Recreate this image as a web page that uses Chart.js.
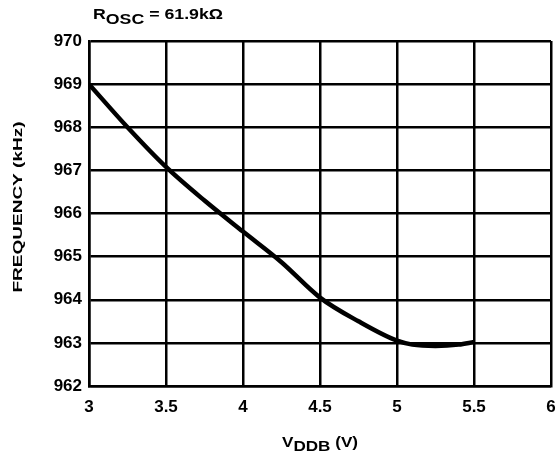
<!DOCTYPE html>
<html>
<head>
<meta charset="utf-8">
<script src="https://cdn.jsdelivr.net/npm/chart.js@4/dist/chart.umd.min.js"></script>
<style>
  html, body { margin: 0; padding: 0; background: #fff; }
  #wrap { width: 556px; height: 460px; position: relative; }
</style>
</head>
<body>
<div id="wrap"><canvas id="chart"></canvas></div>
<script>
// values
const vddb = [3, 3.25, 3.5, 3.75, 4, 4.25, 4.5, 4.75, 5, 5.1, 5.25, 5.4, 5.5];
const freq = [969, 968.0, 967.08, 966.3, 965.58, 964.87, 964.05, 963.5, 963.05, 962.96, 962.93, 962.96, 963.02];

const xTicks = [3, 3.5, 4, 4.5, 5, 5.5, 6];
const yTicks = [962, 963, 964, 965, 966, 967, 968, 969, 970];

const FONT = "'Liberation Sans', Arial, sans-serif";

// draw text made of pieces (normal + subscript), stretched to a given width
const drawPieces = (ctx, pieces, x, y, width, anchor) => {
	ctx.save();
	let natural = 0;
	for (let p of pieces) {
		ctx.font = `bold ${p.size}px ${FONT}`;
		natural += ctx.measureText(p.text).width;
	}
	const sx = width / natural;
	const startX = anchor === "center" ? x - width / 2 : x;
	ctx.translate(startX, y);
	ctx.scale(sx, 1);
	ctx.fillStyle = "#000";
	ctx.textBaseline = "alphabetic";
	ctx.textAlign = "left";
	let cx = 0;
	for (let p of pieces) {
		ctx.font = `bold ${p.size}px ${FONT}`;
		ctx.fillText(p.text, cx, p.dy || 0);
		cx += ctx.measureText(p.text).width;
	}
	ctx.restore();
};

const titles = {
	id: "titles",
	afterDraw(chart) {
		const ctx = chart.ctx;
		const area = chart.chartArea;
		// top title
		drawPieces(ctx, [
			{text: "R", size: 14},
			{text: "OSC", size: 14, dy: 5},
			{text: " = 61.9k\u03A9", size: 14}
		], 93, 19, 130, "left");
		// x axis title
		drawPieces(ctx, [
			{text: "V", size: 14},
			{text: "DDB", size: 14, dy: 4},
			{text: " (V)", size: 14}
		], (area.left + area.right) / 2, 447, 76, "center");
		// y axis title
		ctx.save();
		ctx.translate(22, 207);
		ctx.rotate(-Math.PI / 2);
		drawPieces(ctx, [{text: "FREQUENCY (kHz)", size: 13}], 0, 0, 171, "center");
		ctx.restore();
	}
};

new Chart(document.getElementById("chart"), {
	type: "line",
	data: {
		datasets: [
			{
				data: vddb.map((v, i) => ({x: v, y: freq[i]})),
				borderColor: "#000",
				borderWidth: 4.5,
				pointRadius: 0,
				cubicInterpolationMode: "monotone",
				fill: false
			}
		]
	},
	options: {
		responsive: true,
		maintainAspectRatio: false,
		animation: false,
		layout: {padding: {left: 0, right: 5, top: 41, bottom: 0}},
		plugins: {legend: {display: false}, tooltip: {enabled: false}},
		scales: {
			x: {
				type: "linear",
				min: 3,
				max: 6,
				afterBuildTicks: (scale) => { scale.ticks = xTicks.map((v) => ({value: v})); },
				afterFit: (scale) => {
					scale.height = 74;
					scale.paddingLeft = 0;
					scale.paddingRight = 0;
				},
				grid: {color: "#000", lineWidth: 2.5, drawTicks: false},
				border: {display: true, color: "#000", width: 2.5},
				ticks: {
					color: "#000",
					padding: 11,
					maxRotation: 0,
					callback: (v) => String(v),
					font: {family: FONT, size: 17, weight: "bold"}
				}
			},
			y: {
				min: 962,
				max: 970,
				afterBuildTicks: (scale) => { scale.ticks = yTicks.map((v) => ({value: v})); },
				afterFit: (scale) => {
					scale.width = 89;
					scale.paddingTop = 0;
					scale.paddingBottom = 0;
				},
				grid: {color: "#000", lineWidth: 2.5, drawTicks: false},
				border: {display: true, color: "#000", width: 2.5},
				ticks: {
					color: "#000",
					padding: 7,
					callback: (v) => String(v),
					font: {family: FONT, size: 17, weight: "bold"}
				}
			}
		}
	},
	plugins: [titles]
});
</script>
</body>
</html>
